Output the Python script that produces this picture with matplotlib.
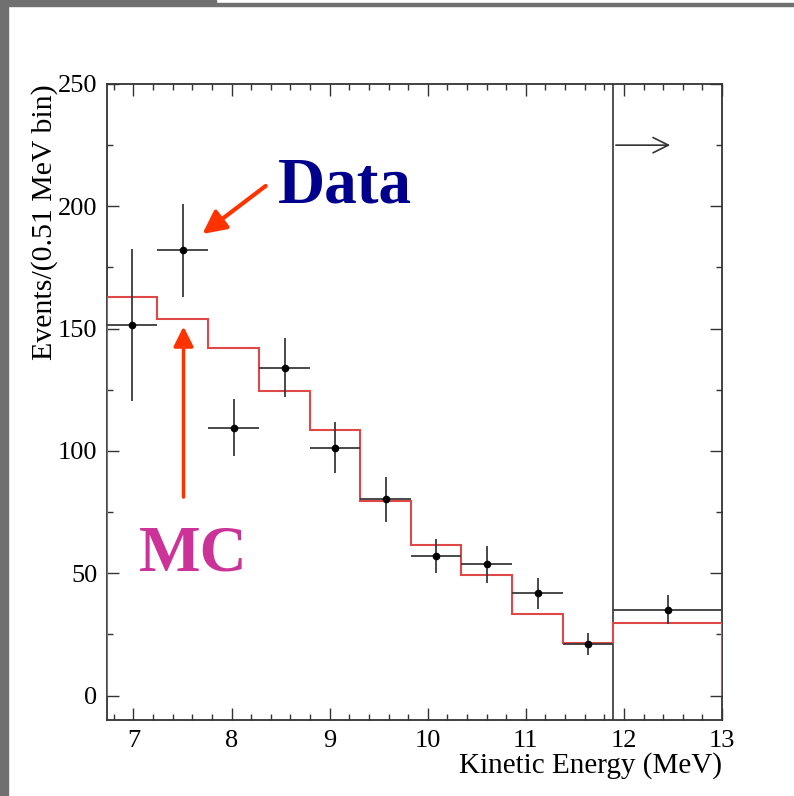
import matplotlib
matplotlib.use("Agg")
import matplotlib.pyplot as plt
from matplotlib.patches import Rectangle
from matplotlib.ticker import MultipleLocator

# Bin edges (MeV): ten 0.51 MeV bins plus one wide bin above the cut
bin_edges = [6.73, 7.24, 7.76, 8.28, 8.80, 9.31, 9.83, 10.34, 10.86, 11.38, 11.89, 13.0]
# Monte Carlo expectation per bin
mc_counts = [163.0, 154.0, 142.0, 124.3, 108.7, 79.4, 61.7, 49.2, 33.2, 21.6, 29.8]
# Observed events per bin and their errors
data_counts = [151.5, 182.0, 109.5, 134.0, 101.3, 80.3, 57.0, 53.7, 41.8, 21.0, 35.1]
data_errors = [31.0, 19.0, 11.7, 12.0, 10.5, 9.2, 6.8, 7.6, 6.3, 4.5, 6.0]

cut_energy = 11.89
arrow_y = 225
arrow_end = 12.5

x_ticks = [7, 8, 9, 10, 11, 12, 13]
y_ticks = [0, 50, 100, 150, 200, 250]

SERIF = ["Liberation Serif", "DejaVu Serif"]
plt.rcParams["font.family"] = SERIF

fig = plt.figure(figsize=(7.94, 7.96), dpi=100)
fig.patch.set_facecolor("white")

# slide frame pieces
gray = "#707070"
fig.patches.append(Rectangle((0, 0), 8 / 794, 1, transform=fig.transFigure,
                             color=gray, zorder=0))
fig.patches.append(Rectangle((0, 1 - 6 / 796), 216 / 794, 6 / 796,
                             transform=fig.transFigure, color=gray, zorder=0))
fig.patches.append(Rectangle((216 / 794, 1 - 6 / 796), 1 - 216 / 794, 2.5 / 796,
                             transform=fig.transFigure, color=gray, zorder=0))

ax = fig.add_axes([107 / 794, 1 - 720 / 796, 615 / 794, 636 / 796])

centers = [(a + b) / 2 for a, b in zip(bin_edges[:-1], bin_edges[1:])]
half_w = [(b - a) / 2 for a, b in zip(bin_edges[:-1], bin_edges[1:])]

# MC histogram
ax.stairs(mc_counts, bin_edges, baseline=0, color="#e04848", lw=1.5, zorder=3)

# data points
ax.errorbar(centers, data_counts, yerr=data_errors, xerr=half_w, fmt="o",
            color="black", ms=4.5, ecolor="#3a3a3a", elinewidth=1.3,
            capsize=0, zorder=4)

# cut line and direction arrow
ax.axvline(cut_energy, color="#333333", lw=1.2, zorder=2)
ax.annotate("", xy=(arrow_end, arrow_y), xytext=(cut_energy, arrow_y),
            arrowprops=dict(arrowstyle="->,head_length=1.1,head_width=0.55",
                            color="#333333", lw=1.2))

ax.set_xlim(6.73, 13.0)
ax.set_ylim(-10, 250)
ax.set_xticks(x_ticks)
ax.set_yticks(y_ticks)
ax.xaxis.set_minor_locator(MultipleLocator(0.2))
ax.yaxis.set_minor_locator(MultipleLocator(25))
ax.tick_params(which="both", direction="in", top=True, right=True,
               color="#333333", width=1.0, labelsize=19, pad=7)
ax.tick_params(which="major", length=8.6)
ax.tick_params(which="minor", length=4.3)
for s in ax.spines.values():
    s.set_color("#333333")
    s.set_linewidth(1.3)

ax.set_ylabel("Events/(0.51 MeV bin)", fontsize=21.5, y=1.0, ha="right", labelpad=0)
ax.set_xlabel("Kinetic Energy (MeV)", fontsize=21, x=1.0, ha="right", labelpad=0)

# callouts
callout = "#ff3300"
ax.text(8.47, 208, "Data", color="#00008c", fontsize=47, fontweight="bold",
        va="center", ha="left")
ax.annotate("", xy=(7.68, 188), xytext=(8.37, 209),
            arrowprops=dict(arrowstyle="-|>,head_length=1.4,head_width=0.7",
                            color=callout, lw=3))
ax.text(7.06, 57.5, "MC", color="#cc3399", fontsize=47, fontweight="bold",
        va="center", ha="left")
ax.annotate("", xy=(7.51, 152), xytext=(7.51, 80),
            arrowprops=dict(arrowstyle="-|>,head_length=1.2,head_width=0.6",
                            color=callout, lw=2.5))

fig.savefig("out.png", dpi=100, facecolor="white")
